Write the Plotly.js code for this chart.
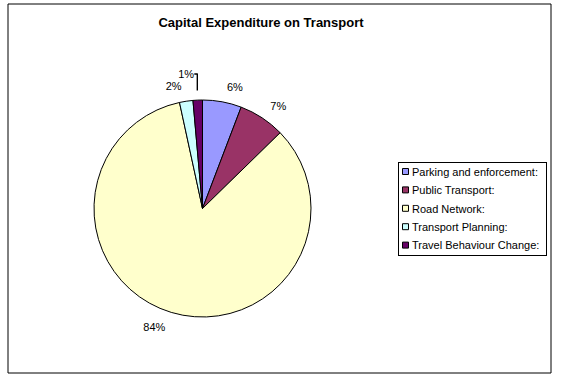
<!DOCTYPE html>
<html>
<head>
<meta charset="utf-8">
<script src="https://cdn.plot.ly/plotly-3.0.1.min.js"></script>
<style>
html,body{margin:0;padding:0;background:#fff;}
#chart{width:561px;height:382px;}
</style>
</head>
<body>
<div id="chart"></div>
<script>
const categories = ["Parking and enforcement:", "Public Transport:", "Road Network:", "Transport Planning:", "Travel Behaviour Change:"];
const values = [5.8, 6.9, 83.9, 2.0, 1.4];
const colors = ["#9999FF", "#993366", "#FFFFCC", "#CCFFFF", "#660066"];
const titleText = "Capital Expenditure on Transport";

const W = 561, H = 382;
const cx = 202.5, cy = 208.5, r = 108.5, rLab = 118;
const FONT = "Liberation Sans, Arial, sans-serif";

function dom(rr) {
  return {x: [(cx - rr) / W, (cx + rr) / W], y: [(H - cy - rr) / H, (H - cy + rr) / H]};
}

// label carrier: same data, transparent, slightly larger so labels sit further out
const labelTrace = {
  type: "pie",
  labels: categories,
  values: values,
  sort: false,
  direction: "clockwise",
  rotation: 0,
  marker: {colors: categories.map(() => "rgba(0,0,0,0)"), line: {width: 0}},
  texttemplate: "%{percent:.0%}",
  textposition: "outside",
  outsidetextfont: {family: FONT, size: 11, color: "#000000"},
  showlegend: false,
  hoverinfo: "skip",
  domain: dom(rLab),
  automargin: false
};

const pieTrace = {
  type: "pie",
  labels: categories,
  values: values,
  sort: false,
  direction: "clockwise",
  rotation: 0,
  marker: {colors: colors, line: {color: "#000000", width: 1}},
  textinfo: "none",
  textposition: "none",
  hoverinfo: "label+percent",
  domain: dom(r),
  automargin: false
};

const layout = {
  width: W, height: H,
  margin: {l: 0, r: 0, t: 0, b: 0},
  paper_bgcolor: "#ffffff",
  font: {family: FONT, size: 11, color: "#000000"},
  title: {
    text: "<b>" + titleText + "</b>",
    x: 261 / W, xref: "paper", xanchor: "center",
    y: 1 - 22.5 / H, yref: "paper", yanchor: "middle",
    font: {family: FONT, size: 13, color: "#000000"}
  },
  showlegend: true,
  legend: {
    x: 546 / W, xanchor: "right",
    y: 1 - 162 / H, yanchor: "top",
    bgcolor: "#ffffff",
    bordercolor: "#000000", borderwidth: 1,
    font: {family: FONT, size: 11, color: "#000000"},
    itemwidth: 30,
    traceorder: "normal"
  },
  shapes: [{
    type: "rect", xref: "paper", yref: "paper",
    x0: 8 / W, x1: 551 / W, y0: (H - 373) / H, y1: (H - 4) / H,
    line: {color: "#000000", width: 1}, fillcolor: "rgba(0,0,0,0)", layer: "below"
  }]
};

// compact Excel-like legend box (styling only)
const LEG = {left: 398, top: 162, width: 148, height: 93, symX: 405.5, textX: 412, rowY0: 171.5, rowStep: 18.4, sym: 3};

Plotly.newPlot("chart", [labelTrace, pieTrace], layout, {displayModeBar: false, staticPlot: true}).then(function (gd) {
  try {
    const svgRect = gd.querySelector(".main-svg").getBoundingClientRect();
    const legend = gd.querySelector("g.legend");
    if (!legend) return;
    legend.setAttribute("transform", "translate(" + LEG.left + "," + LEG.top + ")");
    const bg = legend.querySelector("rect.bg");
    if (bg) {
      bg.setAttribute("width", LEG.width);
      bg.setAttribute("height", LEG.height);
    }
    const items = legend.querySelectorAll("g.traces");
    items.forEach(function (it, i) {
      const sym = it.querySelector(".legendpoints path");
      if (sym) {
        sym.setAttribute("d", "M" + LEG.sym + "," + LEG.sym + "H-" + LEG.sym + "V-" + LEG.sym + "H" + LEG.sym + "Z");
      }
      // vertical placement
      if (sym) {
        const b = sym.getBoundingClientRect();
        const curY = b.top + b.height / 2 - svgRect.top;
        const dy = (LEG.rowY0 + i * LEG.rowStep) - curY;
        const tr = it.getAttribute("transform") || "";
        const m = /translate\(\s*([-\d.e]+)[ ,]+([-\d.e]+)\s*\)/.exec(tr);
        const tx = m ? parseFloat(m[1]) : 0, ty = m ? parseFloat(m[2]) : 0;
        it.setAttribute("transform", "translate(" + tx + "," + (ty + dy) + ")");
        const b2 = sym.getBoundingClientRect();
        const curX = b2.left + b2.width / 2 - svgRect.left;
        const t0 = sym.getAttribute("transform") || "";
        const m2 = /translate\(\s*([-\d.e]+)[ ,]*([-\d.e]*)\s*\)/.exec(t0);
        const sx = m2 ? parseFloat(m2[1]) : 0, sy = m2 && m2[2] ? parseFloat(m2[2]) : 0;
        sym.setAttribute("transform", "translate(" + (sx + LEG.symX - curX) + "," + sy + ")");
      }
      const txt = it.querySelector("text.legendtext");
      if (txt) {
        const bt = txt.getBoundingClientRect();
        const curL = bt.left - svgRect.left;
        const x0 = parseFloat(txt.getAttribute("x") || "0");
        txt.setAttribute("x", x0 + LEG.textX - curL);
      }
    });
  } catch (e) { console.error(e); }
});
</script>
</body>
</html>
